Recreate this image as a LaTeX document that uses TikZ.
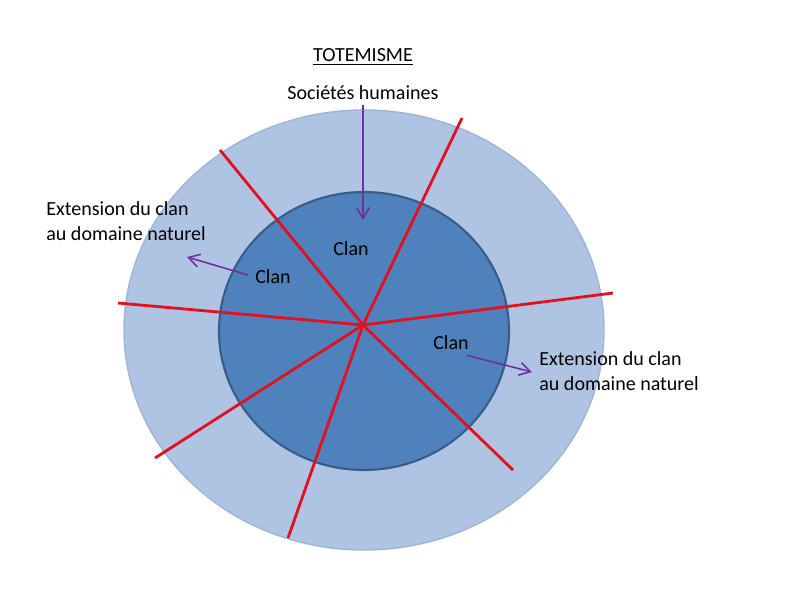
\documentclass[tikz,border=0pt]{standalone}
\usepackage{fontspec}
\setmainfont{Carlito}
\usetikzlibrary{arrows.meta, positioning}
\definecolor{couter}{HTML}{AFC4E2}
\definecolor{couterline}{HTML}{9DB5DA}
\definecolor{cinner}{HTML}{4F81BD}
\definecolor{cinnerline}{HTML}{385D8A}
\definecolor{cred}{HTML}{E3101E}
\definecolor{cpurple}{HTML}{7030A0}
\tikzset{
  every picture/.style={font=\fontsize{11.4}{14.2}\selectfont},
  label/.style={inner sep=0pt, align=left},
  spoke/.style={draw=cred, line width=1.6pt},
  pointer/.style={-{Straight Barb[length=2.2mm, width=2.6mm]}, draw=cpurple, line width=0.9pt},
}
\begin{document}
\begin{tikzpicture}[x=0.02cm, y=-0.02cm]
  \useasboundingbox (0,0) rectangle (800,600);
  % the two rings
  \filldraw[fill=couter, draw=couterline, line width=0.8pt] (364,330) ellipse [x radius=240, y radius=220];
  \filldraw[fill=cinner, draw=cinnerline, line width=1.2pt] (364,331) ellipse [x radius=145, y radius=139];
  % spokes from the centre
  \coordinate (c) at (363,325);
  \coordinate (s1) at (220,150);
  \coordinate (s2) at (462,118);
  \coordinate (s3) at (613,293);
  \coordinate (s4) at (513,470);
  \coordinate (s5) at (288,538);
  \coordinate (s6) at (155,458);
  \coordinate (s7) at (118,303);
  \foreach \s in {s1,s2,s3,s4,s5,s6,s7}
    \draw[spoke] (c) -- (\s);
  % titles
  \node[label] (title) at (363,57) {\underline{TOTEMISME}};
  \node[label] (soc) at (363,93) {Sociétés humaines};
  \coordinate (socend) at (363,220);
  \draw[pointer] (363,105) -- (socend);
  % clans
  \node[label] (clantop) at (351,249) {Clan};
  \node[label] (clanleft) at (273,277) {Clan};
  \node[label] (clanright) at (451,343) {Clan};
  % extensions
  \node[label, anchor=west] (extleft) at (46,221) {Extension du clan\\au domaine naturel};
  \node[label, anchor=west] (extright) at (539,371) {Extension du clan\\au domaine naturel};
  \coordinate (leftend) at (187,257);
  \coordinate (rightend) at (532,372);
  \draw[pointer] (clanleft.west) ++(-7,-2) -- (leftend);
  \draw[pointer] (clanright.south east) ++(-2,5) -- (rightend);
\end{tikzpicture}
\end{document}
